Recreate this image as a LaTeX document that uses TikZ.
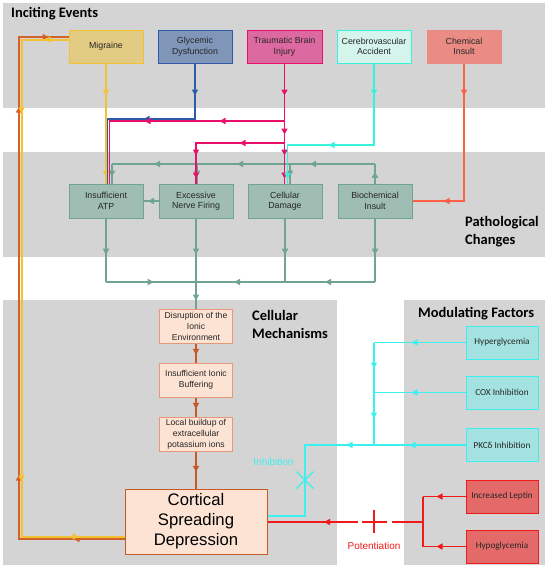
\documentclass[tikz,border=0pt]{standalone}
\usepackage{fontspec}
\setmainfont{Liberation Sans}
\newfontfamily\calibri{Carlito}
\usetikzlibrary{positioning,calc,arrows.meta,decorations.markings}
\definecolor{cPanel}{HTML}{D4D4D4}
\definecolor{cYel}{HTML}{F2C232}
\definecolor{cMigF}{HTML}{E2CC84}
\definecolor{cBlue}{HTML}{2E5AA8}
\definecolor{cGlyF}{HTML}{8096B8}
\definecolor{cMag}{HTML}{E8106A}
\definecolor{cTbiF}{HTML}{DC6AA0}
\definecolor{cCva}{HTML}{38F2DC}
\definecolor{cCvaF}{HTML}{D4F4EC}
\definecolor{cSal}{HTML}{FF5F45}
\definecolor{cChemF}{HTML}{EA8C84}
\definecolor{cGrn}{HTML}{6FA393}
\definecolor{cGrnF}{HTML}{9FBDB2}
\definecolor{cPeach}{HTML}{FDE3D3}
\definecolor{cPeachD}{HTML}{E8987A}
\definecolor{cRust}{HTML}{C55A28}
\definecolor{cOrg}{HTML}{D2622A}
\definecolor{cMod}{HTML}{3CF0F0}
\definecolor{cModF}{HTML}{A3E2E0}
\definecolor{cRed}{HTML}{F01A1A}
\definecolor{cRedF}{HTML}{E46A6A}
\tikzset{BOX/.style={rectangle,draw,line width=1pt,minimum width=74pt,minimum height=33pt,align=center,text=black!85,inner sep=1pt,font=\fontsize{8.8}{10.5}\selectfont}}
\tikzset{MOD/.style={BOX,minimum width=72pt,font=\calibri\fontsize{9.2}{11}\selectfont}}
\tikzset{TITLE/.style={inner sep=0pt,align=left,text=black,font=\calibri\bfseries\fontsize{14.5}{18}\selectfont}}
\tikzset{LINE/.style={line width=1.6pt}}
\tikzset{LOOP/.style={line width=2pt}}
\tikzset{MID/.style={postaction={decorate,decoration={markings,mark=at position #1 with {\arrow{Triangle[length=6pt,width=6pt]}}}}}}

\begin{document}
\begin{tikzpicture}[x=1pt,y=-1pt]
\useasboundingbox (0,0) rectangle (550,570);

% panels
\fill[cPanel] (3,3) rectangle (545,108);
\fill[cPanel] (3,152) rectangle (545,257);
\fill[cPanel] (3,300) rectangle (337,565);
\fill[cPanel] (404,300) rectangle (545,565);

\node[TITLE,anchor=base west] (n_t_incite) at (11,17) {Inciting Events};
\node[TITLE,anchor=west] (n_t_path) at (465,232) {Pathological\\Changes};
\node[TITLE,anchor=west] (n_t_cell) at (252,324) {Cellular\\Mechanisms};
\node[TITLE,anchor=base west] (n_t_mod) at (418,317) {Modulating Factors};

\node[BOX,fill=cMigF,draw=cYel] (n_mig) at (106,46.5) {Migraine};
\node[BOX,fill=cGlyF,draw=cBlue] (n_gly) at (195,46.5) {Glycemic\\Dysfunction};
\node[BOX,fill=cTbiF,draw=cMag,minimum width=75pt] (n_tbi) at (284.5,46.5) {Traumatic Brain\\Injury};
\node[BOX,fill=cCvaF,draw=cCva] (n_cva) at (374,46.5) {Cerebrovascular\\Accident};
\node[BOX,fill=cChemF,draw=cChemF] (n_chem) at (464,46.5) {Chemical\\Insult};

\node[BOX,fill=cGrnF,draw=cGrn,minimum height=34pt] (n_atp) at (106,201) {Insufficient\\ATP};
\node[BOX,fill=cGrnF,draw=cGrn,minimum height=34pt] (n_nerve) at (196,201) {Excessive\\Nerve Firing};
\node[BOX,fill=cGrnF,draw=cGrn,minimum height=34pt] (n_dmg) at (285,201) {Cellular\\Damage};
\node[BOX,fill=cGrnF,draw=cGrn,minimum height=34pt] (n_bio) at (375,201) {Biochemical\\Insult};

\node[BOX,fill=cPeach,draw=cPeachD,minimum width=73pt,minimum height=34pt,font=\fontsize{8.6}{11}\selectfont] (n_ionic) at (196,326) {Disruption of the\\Ionic\\Environment};
\node[BOX,fill=cPeach,draw=cPeachD,minimum width=73pt,minimum height=34pt,font=\fontsize{8.6}{11}\selectfont] (n_buffer) at (196,380) {Insufficient Ionic\\Buffering};
\node[BOX,fill=cPeach,draw=cPeachD,minimum width=73pt,minimum height=34pt,font=\fontsize{8.6}{11}\selectfont] (n_potas) at (196,434) {Local buildup of\\extracellular\\potassium ions};
\node[BOX,fill=cPeach,draw=cRust,minimum width=142pt,minimum height=65pt,text=black,font=\fontsize{16.7}{20}\selectfont] (n_csd) at (196,521.5) {Cortical\\Spreading\\Depression};

\node[MOD,fill=cModF,draw=cMod] (n_hyper) at (502,342.5) {Hyperglycemia};
\node[MOD,fill=cModF,draw=cMod] (n_cox) at (502,392.5) {COX Inhibition};
\node[MOD,fill=cModF,draw=cMod] (n_pkc) at (502,445) {PKCδ Inhibition};
\node[MOD,fill=cRedF,draw=cRed] (n_leptin) at (502,496.5) {Increased Leptin};
\node[MOD,fill=cRedF,draw=cRed] (n_hypo) at (502,546.5) {Hypoglycemia};

% green feedback between pathological changes
\coordinate (c_g0) at (375,164);
\coordinate (c_g1) at (112,164);
\coordinate (c_g2) at (197,164);
\coordinate (c_g3) at (290,164);
\draw[LINE,cGrn,MID=0.6] (n_bio.north) -- (c_g0);
\draw[LINE,cGrn,MID=65pt,MID=138pt,MID=221pt] (c_g0) -- (c_g1);
\draw[LINE,cGrn,MID=0.65] (c_g1) -- (c_g1|-n_atp.north);
\draw[LINE,cGrn,MID=0.65] (c_g2) -- (c_g2|-n_nerve.north);
\draw[LINE,cGrn,MID=0.65] (c_g3) -- (c_g3|-n_dmg.north);
\draw[LINE,cGrn,MID=0.7] (n_nerve.west) -- (n_atp.east);

\coordinate (c_b1) at (106,282);
\coordinate (c_b2) at (196,282);
\coordinate (c_b3) at (285,282);
\coordinate (c_b4) at (375,282);
\draw[LINE,cGrn,MID=0.57] (n_atp.south) -- (c_b1);
\draw[LINE,cGrn,MID=0.57] (n_dmg.south) -- (c_b3);
\draw[LINE,cGrn,MID=0.57] (n_bio.south) -- (c_b4);
\draw[LINE,cGrn,MID=0.53] (c_b1) -- (c_b2);
\draw[LINE,cGrn,MID=50pt,MID=141pt] (c_b4) -- (c_b2);
\draw[LINE,cGrn,MID=36pt,MID=82pt] (n_nerve.south) -- (n_ionic.north);

% cellular mechanisms
\draw[LINE,cRust,MID=0.6] (n_ionic.south) -- (n_buffer.north);
\draw[LINE,cRust,MID=0.6] (n_buffer.south) -- (n_potas.north);
\draw[LINE,cRust,MID=0.55] (n_potas.south) -- (n_csd.north);

% inciting events
\draw[LINE,cYel,MID=32pt,MID=113pt] (n_mig.south) -- (n_mig.south|-n_atp.north);

\coordinate (c_bl) at (107.5,119);
\draw[LINE,cBlue,MID=32pt,MID=107pt] (n_gly.south) -- (n_gly.south|-c_bl) -- (c_bl) -- (c_bl|-n_atp.north);

\coordinate (c_m1) at (109.5,121);
\coordinate (c_m2) at (196,143);
\draw[LINE,cMag,MID=65pt,MID=140pt] (n_tbi.south|-c_m1) -- (c_m1) -- (c_m1|-n_atp.north);
\draw[LINE,cMag,MID=45pt,MID=101pt,MID=124pt] (n_tbi.south|-c_m2) -- (c_m2) -- (c_m2|-n_nerve.north);
\draw[LINE,cMag,MID=32pt,MID=71pt,MID=92pt,MID=115pt] (n_tbi.south) -- (n_tbi.south|-n_dmg.north);

\coordinate (c_c1) at (287.5,145);
\draw[LINE,cCva,MID=32pt,MID=127pt,MID=202pt] (n_cva.south) -- (n_cva.south|-c_c1) -- (c_c1) -- (c_c1|-n_dmg.north);

\draw[LINE,cSal,MID=32pt,MID=158pt] (n_chem.south) -- (n_chem.south|-n_bio.east) -- (n_bio.east);

% migraine <-> CSD loop
\coordinate (c_o1) at (19,539);
\coordinate (c_o2) at (19,37);
\coordinate (c_y1) at (21.5,536.5);
\coordinate (c_y2) at (21.5,39.5);
\draw[LOOP,cOrg,MID=51pt,MID=170pt,MID=538pt,MID=637pt] (n_csd.west|-c_o1) -- (c_o1) -- (c_o2) -- (n_mig.west|-c_o2);
\draw[LOOP,cYel,MID=24pt,MID=121pt,MID=489pt,MID=601pt] (n_mig.west|-c_y2) -- (c_y2) -- (c_y1) -- (n_csd.west|-c_y1);

% modulating factors
\coordinate (c_h) at (374,342.5);
\coordinate (c_x) at (374,445);
\coordinate (c_p) at (305,445);
\coordinate (c_q) at (305,516);
\coordinate (c_xm) at (305,480);
\draw[LINE,cMod,MID=54pt] (n_hyper.west) -- (n_hyper.west-|c_h);
\draw[LINE,cMod,MID=54pt] (n_cox.west) -- (n_cox.west-|c_h);
\draw[LINE,cMod,MID=26pt,MID=76pt] (c_h) -- (c_x);
\draw[LINE,cMod,MID=56pt,MID=119pt] (n_pkc.west) -- (c_p) -- (c_q) -- (n_csd.east|-c_q);
\draw[LINE,cMod,line width=1.3pt] ($(c_xm)+(-8.5,-8.5)$) -- ($(c_xm)+(8.5,8.5)$) ($(c_xm)+(-8.5,8.5)$) -- ($(c_xm)+(8.5,-8.5)$);
\node[text=cMod,font=\fontsize{10}{12}\selectfont] (n_inhib) at (273.5,462) {Inhibition};

\coordinate (c_r1) at (423,496.5);
\coordinate (c_r2) at (423,546.5);
\coordinate (c_r) at (423,522);
\coordinate (c_pm) at (374,522);
\draw[LINE,cRed,MID=29pt] (n_leptin.west) -- (c_r1);
\draw[LINE,cRed,MID=29pt] (n_hypo.west) -- (c_r2);
\draw[LINE,cRed] (c_r1) -- (c_r2);
\draw[LINE,cRed] (c_r) -- ($(c_pm)+(18,0)$) ($(c_pm)+(13,0)$) -- ($(c_pm)+(-12,0)$);
\draw[LINE,cRed,MID=34pt] ($(c_pm)+(-16,0)$) -- (n_csd.east|-c_r);
\draw[LINE,cRed] ($(c_pm)+(0,-12)$) -- ($(c_pm)+(0,11)$);
\node[text=cRed,font=\fontsize{10}{12}\selectfont] (n_potent) at (374,546) {Potentiation};

\end{tikzpicture}
\end{document}
